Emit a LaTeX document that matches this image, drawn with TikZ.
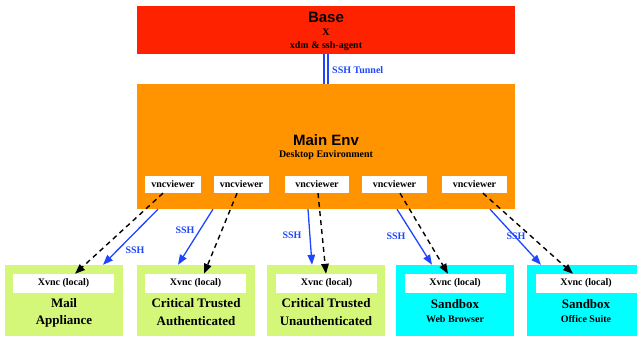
\documentclass[tikz,border=0pt]{standalone}
\usepackage{fontspec}
\setmainfont{Liberation Serif}
\newfontfamily\hvfont{Liberation Sans}
\usetikzlibrary{arrows.meta}
\definecolor{basered}{RGB}{255,34,0}
\definecolor{envorange}{RGB}{255,148,0}
\definecolor{boxgreen}{RGB}{212,247,122}
\definecolor{boxcyan}{RGB}{0,255,255}
\definecolor{sshblue}{RGB}{30,70,255}
\tikzset{
  bigbox/.style={fill=#1, draw=none, inner sep=0pt},
  whitebox/.style={fill=white, draw=none, inner sep=0pt, font=\bfseries\fontsize{10}{12}\selectfont},
  title/.style={font=\hvfont\bfseries\fontsize{15}{18}\selectfont, inner sep=0pt},
  subtxt/.style={font=\bfseries\fontsize{10}{12}\selectfont, inner sep=0pt},
  boxtxt/.style={font=\bfseries\fontsize{13}{15}\selectfont, inner sep=0pt},
  sshlbl/.style={font=\bfseries\fontsize{10}{12}\selectfont, text=sshblue, inner sep=0pt},
  sshedge/.style={draw=sshblue, line width=1.3pt, -{Triangle[length=10pt,width=7.5pt]}},
  vncedge/.style={draw=black, line width=1.4pt, dash pattern=on 5pt off 4pt, -{Triangle[length=10pt,width=7.5pt]}},
}
\begin{document}
\begin{tikzpicture}[x=1pt,y=-1pt]
\useasboundingbox (0,0) rectangle (637,338);
\clip (0,0) rectangle (637,338);
% Base
\node[bigbox=basered, minimum width=378pt, minimum height=47.5pt] (base) at (326,29.75) {};
\node[title] (baset) at (326,17) {Base};
\node[subtxt] (basex) at (326,32) {X};
\node[subtxt] (basexdm) at (326,46) {xdm \& ssh-agent};
% Main env
\node[bigbox=envorange, minimum width=378pt, minimum height=125pt] (main) at (326,146.5) {};
\node[title] (maint) at (326,140.5) {Main Env};
\node[subtxt] (maind) at (326,155.5) {Desktop Environment};
% tunnel
\draw[sshblue, line width=1.7pt, double distance=2.3pt] (base.south) -- (main.north);
\node[sshlbl, anchor=west] (tunnel) at (332,70.5) {SSH Tunnel};
% vncviewers
\node[whitebox, minimum width=56pt, minimum height=17pt] (vnc1) at (173,184.5) {vncviewer};
\node[whitebox, minimum width=55pt, minimum height=17pt] (vnc2) at (241.5,184.5) {vncviewer};
\node[whitebox, minimum width=64pt, minimum height=17pt] (vnc3) at (317,184.5) {vncviewer};
\node[whitebox, minimum width=65pt, minimum height=17pt] (vnc4) at (394.5,184.5) {vncviewer};
\node[whitebox, minimum width=65pt, minimum height=17pt] (vnc5) at (474.5,184.5) {vncviewer};
% bottom boxes
\node[bigbox=boxgreen, minimum width=118pt, minimum height=71pt] (b1) at (64,300.5) {};
\node[bigbox=boxgreen, minimum width=118pt, minimum height=71pt] (b2) at (196,300.5) {};
\node[bigbox=boxgreen, minimum width=118pt, minimum height=71pt] (b3) at (326,300.5) {};
\node[bigbox=boxcyan, minimum width=118pt, minimum height=71pt] (b4) at (455,300.5) {};
\node[bigbox=boxcyan, minimum width=118pt, minimum height=71pt] (b5) at (586,300.5) {};
\node[whitebox, minimum width=101pt, minimum height=19pt] (x1) at (63.5,283.5) {Xvnc (local)};
\node[whitebox, minimum width=101pt, minimum height=19pt] (x2) at (195.5,283.5) {Xvnc (local)};
\node[whitebox, minimum width=101pt, minimum height=19pt] (x3) at (326.5,283.5) {Xvnc (local)};
\node[whitebox, minimum width=101pt, minimum height=19pt] (x4) at (455,283.5) {Xvnc (local)};
\node[whitebox, minimum width=101pt, minimum height=19pt] (x5) at (586,283.5) {Xvnc (local)};
\node[boxtxt] (t1a) at (64,303.5) {Mail};
\node[boxtxt] (t1b) at (64,321.5) {Appliance};
\node[boxtxt] (t2a) at (196,303.5) {Critical Trusted};
\node[boxtxt] (t2b) at (196,321.5) {Authenticated};
\node[boxtxt] (t3a) at (326,303.5) {Critical Trusted};
\node[boxtxt] (t3b) at (326,321.5) {Unauthenticated};
\node[boxtxt] (t4a) at (455,304) {Sandbox};
\node[subtxt] (t4b) at (455,319.5) {Web Browser};
\node[boxtxt] (t5a) at (586,304) {Sandbox};
\node[subtxt] (t5b) at (586,319.5) {Office Suite};
% SSH edges
\draw[sshedge] ([xshift=-168pt]main.south) -- ([xshift=39pt]b1.north);
\draw[sshedge] ([xshift=-113pt]main.south) -- ([xshift=-18pt]b2.north);
\draw[sshedge] ([xshift=-18pt]main.south) -- ([xshift=-14pt]b3.north);
\draw[sshedge] ([xshift=71pt]main.south) -- ([xshift=-23pt]b4.north);
\draw[sshedge] ([xshift=164pt]main.south) -- ([xshift=-45pt]b5.north);
\node[sshlbl] (s1) at (135,250) {SSH};
\node[sshlbl] (s2) at (185,230) {SSH};
\node[sshlbl] (s3) at (292,235.5) {SSH};
\node[sshlbl] (s4) at (396,236) {SSH};
\node[sshlbl] (s5) at (516,236) {SSH};
% vnc edges
\draw[vncedge] ([xshift=-10pt]vnc1.south) -- ([xshift=11.5pt]x1.north);
\draw[vncedge] ([xshift=-4.5pt]vnc2.south) -- ([xshift=8.5pt]x2.north);
\draw[vncedge] ([xshift=1pt]vnc3.south) -- ([xshift=-0.5pt]x3.north);
\draw[vncedge] ([xshift=5.5pt]vnc4.south) -- ([xshift=-7pt]x4.north);
\draw[vncedge] ([xshift=8.5pt]vnc5.south) -- ([xshift=-13pt]x5.north);
\end{tikzpicture}
\end{document}
